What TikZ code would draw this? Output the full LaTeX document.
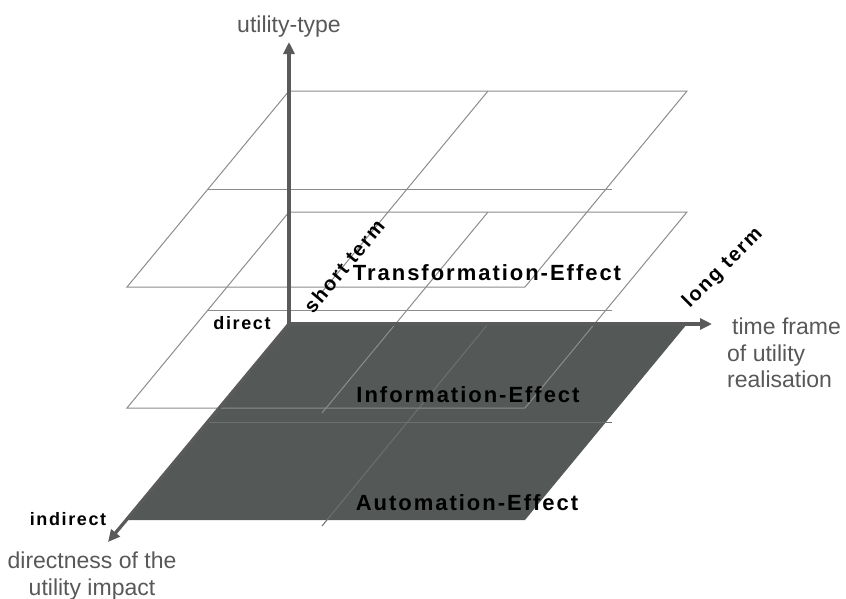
\documentclass[tikz,border=0pt]{standalone}
\usepackage{fontspec}
\setmainfont{Liberation Sans}
\newfontfamily\effectfont[LetterSpace=9]{Liberation Sans}
\usetikzlibrary{arrows.meta}
\definecolor{floorgray}{RGB}{84,89,88}
\definecolor{floorline}{RGB}{108,112,112}
\definecolor{axisgray}{RGB}{90,90,90}
\definecolor{gridgray}{RGB}{140,140,140}
\definecolor{titlegray}{RGB}{88,88,88}
\tikzset{
  plane/.style={gridgray,line width=1pt},
  axis/.style={axisgray,line width=3.3pt,-{Triangle[length=12pt,width=11pt]}},
  effect/.style={font=\effectfont\bfseries\fontsize{22}{26}\selectfont,anchor=base,inner sep=0pt},
  tick/.style={font=\effectfont\bfseries\fontsize{18}{21}\selectfont,inner sep=0pt},
  term/.style={font=\effectfont\bfseries\fontsize{20}{24}\selectfont,inner sep=0pt},
  title/.style={font=\fontsize{23}{26.5}\selectfont,text=titlegray,inner sep=0pt},
}
\begin{document}
\begin{tikzpicture}[x=1pt,y=-1pt]
  \useasboundingbox (0,0) rectangle (846,598);
  % dark floor plane
  \fill[floorgray] (289,324) -- (687,324) -- (525,520) -- (127,520) -- cycle;
  \draw[floorline,line width=1pt] (208,422) -- (612,422);
  \draw[floorline,line width=1pt] (488,324) -- (322,526);
  % the two open planes above it
  \foreach \lev in {212,91} {
    \begin{scope}[shift={(0,\lev)}]
      \draw[plane] (289,0) -- (687,0) -- (525,196) -- (127,196) -- cycle;
      \draw[plane] (208,98) -- (612,98);
      \draw[plane] (488,0) -- (322,201);
    \end{scope}
  }
  % axes
  \coordinate (origin) at (289,324);
  \coordinate (typeend) at (289,42);
  \coordinate (timeend) at (712,324);
  \coordinate (impactend) at (108,542);
  \draw[axis] (origin) -- (typeend);
  \draw[axis] (origin) -- (timeend);
  \draw[axis] (origin) -- (impactend);
  \node[title,anchor=base] (typelbl) at (289,32) {utility-type};
  \node[title,anchor=north west,align=left] (timelbl) at (727,318)
        {\hspace*{5pt}time frame\\of utility\\realisation};
  \node[title,anchor=north,align=center] (impactlbl) at (92,552)
        {directness of the\\utility impact};
  % effects
  \node[effect] (transf) at (487,280) {Transformation-Effect};
  \node[effect] (inform) at (468,402) {Information-Effect};
  \node[effect] (autom) at (467,510) {Automation-Effect};
  \node[tick,anchor=base] (directlbl) at (242,329) {direct};
  \node[tick,anchor=base] (indirectlbl) at (68,525) {indirect};
  \node[term,rotate=50] (shortlbl) at (344,266) {short term};
  \node[term,rotate=45] (longlbl) at (723,268) {long term};
\end{tikzpicture}
\end{document}
